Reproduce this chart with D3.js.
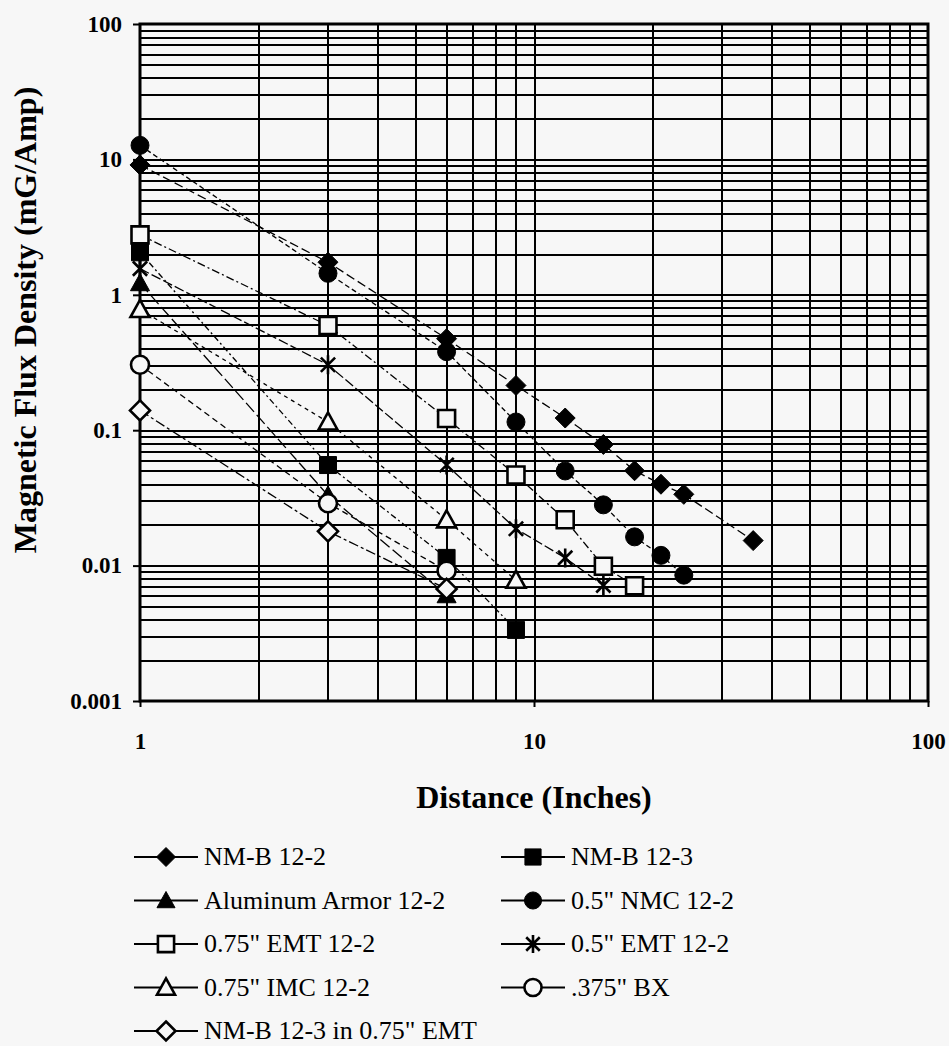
<!DOCTYPE html>
<html>
<head>
<meta charset="utf-8">
<script src="https://cdn.jsdelivr.net/npm/d3@7"></script>
<style>
    body { margin: 0; background: #f7f7f7; }
    svg { display: block; }
</style>
</head>
<body>
<div id="chart"></div>
<script>
    //DATA - distance (inches) and flux density (mG/Amp)
    var nmb122X = [1, 3, 6, 9, 12, 15, 18, 21, 24, 36];
    var nmb122Y = [9.1, 1.74, 0.474, 0.214, 0.123, 0.0785, 0.0502, 0.0399, 0.0336, 0.0153];

    var nmb123X = [1, 3, 6, 9];
    var nmb123Y = [2.06, 0.0553, 0.0114, 0.00335];

    var alArmorX = [1, 3, 6];
    var alArmorY = [1.22, 0.033, 0.00605];

    var nmcX = [1, 3, 6, 9, 12, 15, 18, 21, 24];
    var nmcY = [12.7, 1.44, 0.38, 0.115, 0.05, 0.0281, 0.0163, 0.0119, 0.0085];

    var emt075X = [1, 3, 6, 9, 12, 15, 18];
    var emt075Y = [2.77, 0.593, 0.122, 0.0467, 0.0218, 0.0099, 0.0071];

    var emt05X = [1, 3, 6, 9, 12, 15];
    var emt05Y = [1.56, 0.304, 0.0553, 0.0187, 0.0114, 0.00714];

    var imcX = [1, 3, 6, 9];
    var imcY = [0.78, 0.115, 0.0218, 0.0078];

    var bxX = [1, 3, 6];
    var bxY = [0.304, 0.0289, 0.00916];

    var nmbEmtX = [1, 3, 6];
    var nmbEmtY = [0.14, 0.0179, 0.00673];

    var seriesNames = ["NM-B 12-2", "NM-B 12-3", "Aluminum Armor 12-2", "0.5\" NMC 12-2",
        "0.75\" EMT 12-2", "0.5\" EMT 12-2", "0.75\" IMC 12-2", ".375\" BX", "NM-B 12-3 in 0.75\" EMT"];

    var xTickValues = [1, 10, 100];
    var xTickLabels = ["1", "10", "100"];
    var yTickValues = [0.001, 0.01, 0.1, 1, 10, 100];
    var yTickLabels = ["0.001", "0.01", "0.1", "1", "10", "100"];

    //Build series table (marker + dash style per series)
    var series = [
        { name: seriesNames[0], xs: nmb122X, ys: nmb122Y, marker: "diamond", filled: true, dash: "9,4" },
        { name: seriesNames[1], xs: nmb123X, ys: nmb123Y, marker: "square", filled: true, dash: "6,3,2,3" },
        { name: seriesNames[2], xs: alArmorX, ys: alArmorY, marker: "triangle", filled: true, dash: "12,4" },
        { name: seriesNames[3], xs: nmcX, ys: nmcY, marker: "circle", filled: true, dash: "5,3" },
        { name: seriesNames[4], xs: emt075X, ys: emt075Y, marker: "square", filled: false, dash: "8,3,2,3" },
        { name: seriesNames[5], xs: emt05X, ys: emt05Y, marker: "star", filled: false, dash: "10,3" },
        { name: seriesNames[6], xs: imcX, ys: imcY, marker: "triangle", filled: false, dash: "4,4" },
        { name: seriesNames[7], xs: bxX, ys: bxY, marker: "circle", filled: false, dash: "6,4" },
        { name: seriesNames[8], xs: nmbEmtX, ys: nmbEmtY, marker: "diamond", filled: false, dash: "10,3,3,3" }
    ];
    series.forEach(function(s) {
        s.points = s.xs.map(function(x, i) { return { x: x, y: s.ys[i] }; });
    });

    //PICK A SERIF FONT THAT IS ACTUALLY INSTALLED (Times-like first)
    function fontAvailable(name) {
        var ctx = document.createElement("canvas").getContext("2d");
        var sample = "Magnetic Flux 0123 iiWW";
        var found = false;
        ["monospace", "sans-serif"].forEach(function(base) {
            ctx.font = "40px " + base;
            var w0 = ctx.measureText(sample).width;
            ctx.font = `40px "${name}", ${base}`;
            if (ctx.measureText(sample).width !== w0) found = true;
        });
        return found;
    }
    var fontChoices = ["Liberation Serif", "Tinos", "Times New Roman", "Nimbus Roman", "DejaVu Serif", "Noto Serif", "FreeSerif"];
    var serifFont = fontChoices.find(fontAvailable);
    var fontFamily = serifFont ? `"${serifFont}", serif` : "serif";

    //CREATE SVG WRAPPER
    var svgWidth = 949;
    var svgHeight = 1046;
    var bg = "#f7f7f7";

    var margin = { top: 24, left: 140, right: 21, bottom: 345 };
    var chartWidth = svgWidth - margin.left - margin.right;
    var chartHeight = svgHeight - margin.top - margin.bottom;

    var svg = d3.select("#chart")
        .append("svg")
        .attr("width", svgWidth)
        .attr("height", svgHeight);

    svg.append("rect")
        .attr("width", svgWidth)
        .attr("height", svgHeight)
        .attr("fill", bg);

    var chartGroup = svg.append("g")
        .attr("transform", `translate(${margin.left}, ${margin.top})`);

    //SCALES
    var xLogScale = d3.scaleLog().domain([1, 100]).range([0, chartWidth]);
    var yLogScale = d3.scaleLog().domain([0.001, 100]).range([chartHeight, 0]);

    //GRIDLINES (1..9 x each decade)
    var xGrid = [];
    [1, 10].forEach(function(p) { for (var m = 2; m <= 9; m++) xGrid.push(m * p); });
    var yGrid = [];
    [0.001, 0.01, 0.1, 1, 10].forEach(function(p) { for (var m = 1; m <= 9; m++) yGrid.push(+(m * p).toPrecision(3)); });
    yGrid = yGrid.filter(function(v) { return v > 0.001; });

    chartGroup.append("g")
        .attr("class", "grid")
        .call(d3.axisLeft(yLogScale).tickValues(yGrid).tickSize(-chartWidth).tickFormat(""))
        .call(g => g.select(".domain").remove())
        .selectAll("line")
        .attr("stroke", "#000")
        .attr("stroke-width", 2)
        .attr("shape-rendering", "crispEdges");

    chartGroup.append("g")
        .attr("class", "grid")
        .attr("transform", `translate(0, ${chartHeight})`)
        .call(d3.axisBottom(xLogScale).tickValues(xGrid.concat([10])).tickSize(-chartHeight).tickFormat(""))
        .call(g => g.select(".domain").remove())
        .selectAll("line")
        .attr("stroke", "#000")
        .attr("stroke-width", 2)
        .attr("shape-rendering", "crispEdges");

    //FRAME
    chartGroup.append("rect")
        .attr("width", chartWidth)
        .attr("height", chartHeight)
        .attr("fill", "none")
        .attr("stroke", "#000")
        .attr("stroke-width", 3);

    //AXES
    var leftAxis = chartGroup.append("g")
        .call(d3.axisLeft(yLogScale).tickValues(yTickValues).tickSize(7).tickPadding(11)
            .tickFormat(function(d, i) { return yTickLabels[i]; }));
    leftAxis.select(".domain").remove();
    leftAxis.selectAll("line").attr("stroke", "#000").attr("stroke-width", 2);
    leftAxis.selectAll("text")
        .style("font-family", fontFamily)
        .attr("font-size", 23)
        .attr("font-weight", "bold")
        .attr("fill", "#000");

    var bottomAxis = chartGroup.append("g")
        .attr("transform", `translate(0, ${chartHeight})`)
        .call(d3.axisBottom(xLogScale).tickValues(xTickValues).tickSize(6).tickPadding(26)
            .tickFormat(function(d, i) { return xTickLabels[i]; }));
    bottomAxis.select(".domain").remove();
    bottomAxis.selectAll("line").attr("stroke", "#000").attr("stroke-width", 2);
    bottomAxis.selectAll("text")
        .style("font-family", fontFamily)
        .attr("font-size", 23)
        .attr("font-weight", "bold")
        .attr("fill", "#000");

    //AXIS TITLES
    svg.append("text")
        .attr("transform", "translate(36, 320) rotate(-90)")
        .attr("text-anchor", "middle")
        .style("font-family", fontFamily)
        .attr("font-size", 32)
        .attr("font-weight", "bold")
        .text("Magnetic Flux Density (mG/Amp)");

    svg.append("text")
        .attr("x", margin.left + xLogScale(10))
        .attr("y", 808)
        .attr("text-anchor", "middle")
        .style("font-family", fontFamily)
        .attr("font-size", 32)
        .attr("font-weight", "bold")
        .text("Distance (Inches)");

    //MARKER SHAPES
    function markerPath(type, r) {
        if (type === "diamond") return `M0,${-r}L${r},0L0,${r}L${-r},0Z`;
        if (type === "square") return `M${-r},${-r}H${r}V${r}H${-r}Z`;
        if (type === "triangle") return `M0,${-r}L${r},${r * 0.8}L${-r},${r * 0.8}Z`;
        if (type === "circle") return `M${r},0A${r},${r} 0 1,1 ${-r},0A${r},${r} 0 1,1 ${r},0Z`;
        // star = vertical stroke plus an X
        var d = r * 0.75;
        return `M0,${-r}V${r}M${-d},${-d}L${d},${d}M${-d},${d}L${d},${-d}`;
    }
    var markerSize = { diamond: 10, square: 8.5, triangle: 9.5, circle: 9, star: 9.5 };

    //LINES
    var line = d3.line()
        .x(d => xLogScale(d.x))
        .y(d => yLogScale(d.y));

    chartGroup.selectAll(".series-line")
        .data(series)
        .enter()
        .append("path")
        .attr("class", "series-line")
        .attr("d", d => line(d.points))
        .attr("fill", "none")
        .attr("stroke", "#000")
        .attr("stroke-width", 1.3)
        .attr("stroke-dasharray", d => d.dash);

    //POINTS
    series.forEach(function(s) {
        chartGroup.selectAll(null)
            .data(s.points)
            .enter()
            .append("path")
            .attr("transform", d => `translate(${xLogScale(d.x)}, ${yLogScale(d.y)})`)
            .attr("d", markerPath(s.marker, markerSize[s.marker]))
            .attr("fill", s.marker === "star" ? "none" : (s.filled ? "#000" : bg))
            .attr("stroke", "#000")
            .attr("stroke-width", s.filled ? 1 : 2.6);
    });

    //LEGEND
    var legendOrder = [0, 2, 4, 6, 8, 1, 3, 5, 7];
    var legendGroup = svg.append("g");
    legendOrder.forEach(function(idx, k) {
        var s = series[idx];
        var col = k < 5 ? 0 : 1;
        var row = k < 5 ? k : k - 5;
        var lx = col === 0 ? 134 : 501;
        var ly = 857 + row * 43.5;
        var item = legendGroup.append("g").attr("transform", `translate(${lx}, ${ly})`);
        item.append("line")
            .attr("x1", 0).attr("x2", 64)
            .attr("stroke", "#000")
            .attr("stroke-width", 2);
        item.append("path")
            .attr("transform", "translate(32, 0)")
            .attr("d", markerPath(s.marker, markerSize[s.marker] * 0.95))
            .attr("fill", s.marker === "star" ? "none" : (s.filled ? "#000" : bg))
            .attr("stroke", "#000")
            .attr("stroke-width", s.filled ? 1 : 2.6);
        item.append("text")
            .attr("x", 70)
            .attr("y", 8)
            .style("font-family", fontFamily)
            .attr("font-size", 26)
            .attr("fill", "#000")
            .text(s.name);
    });
</script>
</body>
</html>
